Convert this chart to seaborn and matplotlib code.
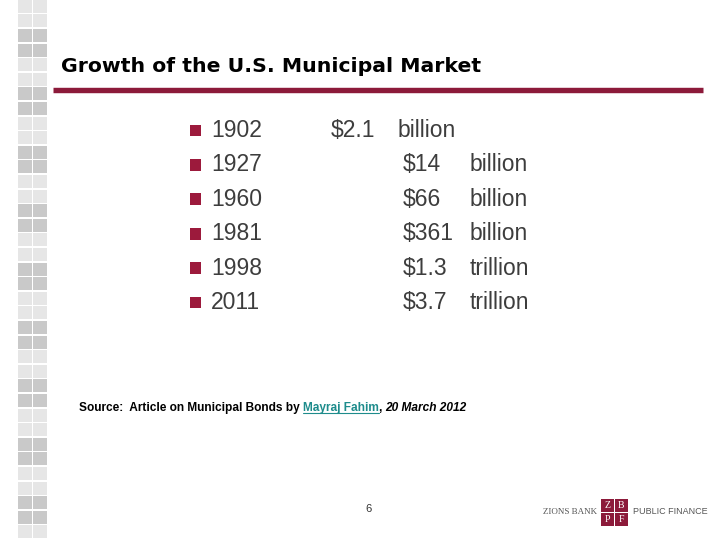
import numpy as np
import pandas as pd
import matplotlib
matplotlib.use("Agg")
import matplotlib.pyplot as plt
from matplotlib.patches import Rectangle
import seaborn as sns

# slide content
title = "Growth of the U.S. Municipal Market"
years = ["1902", "1927", "1960", "1981", "1998", "2011"]
amounts = ["$2.1", "$14", "$66", "$361", "$1.3", "$3.7"]
units = ["billion", "billion", "billion", "billion", "trillion", "trillion"]
source_parts = ["Source:  Article on Municipal Bonds by ", "Mayraj Fahim", ", ", "20 March 2012"]
page_no = "6"

sns.set_theme(style="white")
plt.rcParams["font.family"] = ["Liberation Sans", "DejaVu Sans"]

RED = "#8C1A3A"
BULLET = "#9C1A3C"
GREY_TXT = "#3d3d3d"

fig = plt.figure(figsize=(7.2, 5.4), dpi=100)
ax = fig.add_axes([0, 0, 1, 1])
ax.set_xlim(0, 720)
ax.set_ylim(540, 0)
ax.axis("off")
renderer = fig.canvas.get_renderer()
inv = ax.transData.inverted()

# left decorative strip: pairs of light / dark squares
pitch = 14.6
for i in range(38):
    y0 = -0.2 + i * pitch
    col = "#e6e6e6" if (i // 2) % 2 == 0 else "#c9c9c9"
    for x0 in (18, 33):
        ax.add_patch(Rectangle((x0, y0), 14, 13, color=col, lw=0))

# title and rule (DejaVu bold is close to the wide hinted Arial of the slide)
ax.text(61, 72, title, fontsize=14.7, fontweight="bold", color="black",
        ha="left", va="baseline", family="DejaVu Sans")
ax.plot([53, 703], [90, 90], color=RED, lw=3.9, solid_capstyle="butt")

# bullet rows
df = pd.DataFrame({"year": years, "amount": amounts, "unit": units})
df["y"] = 130.5 + np.arange(len(df)) * 34.4
df["x"] = 195.5
sns.scatterplot(data=df, x="x", y="y", marker="s", s=70, color=BULLET,
                edgecolor="none", ax=ax, legend=False)
ax.set_xlim(0, 720)
ax.set_ylim(540, 0)
ax.axis("off")

for i, row in df.iterrows():
    ax.text(211, row["y"], row["year"], fontsize=16.5, color=GREY_TXT,
            ha="left", va="center")
    x_amt = 331 if i == 0 else 403
    x_unit = 398 if i == 0 else 470
    ax.text(x_amt, row["y"], row["amount"], fontsize=16.5, color=GREY_TXT,
            ha="left", va="center")
    ax.text(x_unit, row["y"], row["unit"], fontsize=16.5, color=GREY_TXT,
            ha="left", va="center")

# source line built piece by piece
x = 79
ys = 411
styles = [dict(color="black", fontweight="bold"),
          dict(color="#1E8C8C", fontweight="bold"),
          dict(color="black", fontweight="bold"),
          dict(color="black", fontweight="bold", fontstyle="italic")]
for part, st in zip(source_parts, styles):
    t = ax.text(x, ys, part, fontsize=8.6, ha="left", va="baseline", **st)
    bb = t.get_window_extent(renderer)
    (x0d, _), (x1d, _) = inv.transform([[bb.x0, bb.y0], [bb.x1, bb.y1]])
    if part == "Mayraj Fahim":
        ax.plot([x0d, x1d], [ys + 2, ys + 2], color="#1E8C8C", lw=0.8)
    x = x1d

# page number
ax.text(368, 509, page_no, fontsize=8, color="#333333", ha="center", va="center")

# footer logo
ax.text(597, 512, "ZIONS BANK", fontsize=6.5, color="#555555", ha="right",
        va="center", family="Liberation Serif")
ax.text(633, 512, "PUBLIC FINANCE", fontsize=6.5, color="#555555", ha="left",
        va="center")
for (lx, ly, letter) in [(601, 499, "Z"), (615, 499, "B"), (601, 513, "P"), (615, 513, "F")]:
    ax.add_patch(Rectangle((lx, ly), 12.5, 12.5, color=RED, lw=0))
    ax.text(lx + 6.25, ly + 6.5, letter, fontsize=7, color="white", ha="center",
            va="center", family="Liberation Serif")

fig.savefig("out.png", dpi=100)
